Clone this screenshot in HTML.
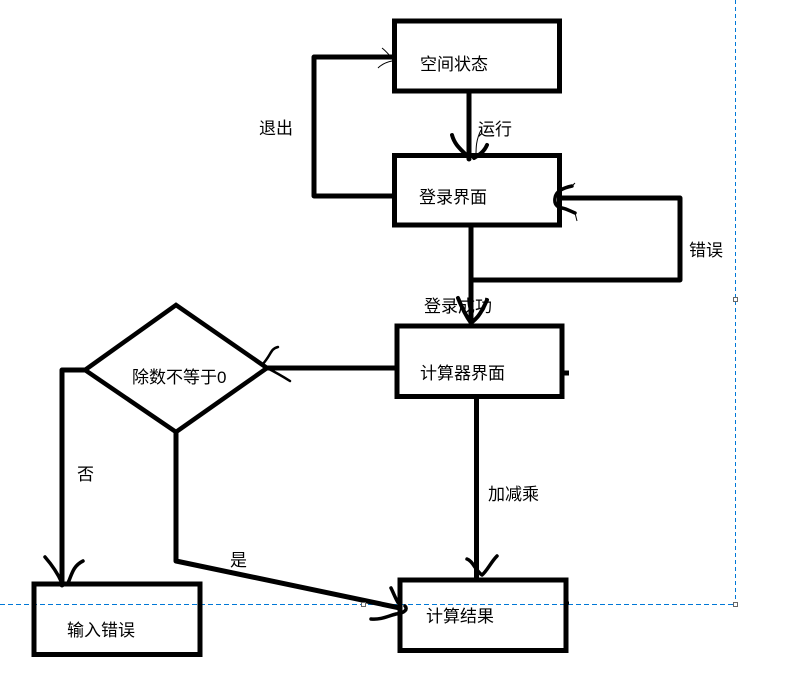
<!DOCTYPE html>
<html>
<head>
<meta charset="utf-8">
<style>
html,body{margin:0;padding:0;background:#fff;width:791px;height:676px;overflow:hidden}
svg{display:block}
text{font-family:"Liberation Sans","Noto Sans CJK SC","WenQuanYi Zen Hei",sans-serif;font-size:17px;fill:#000}
</style>
</head>
<body>
<svg width="791" height="676" viewBox="0 0 791 676" xmlns="http://www.w3.org/2000/svg">
<rect width="791" height="676" fill="#fff"/>
<text x="420" y="70">空间状态</text>
<text x="478" y="135">运行</text>
<text x="259" y="134">退出</text>
<text x="419" y="203">登录界面</text>
<text x="689" y="256">错误</text>
<text x="424" y="312">登录成功</text>
<text x="420" y="379">计算器界面</text>
<text x="132" y="383">除数不等于0</text>
<text x="77" y="480">否</text>
<text x="488" y="500">加减乘</text>
<text x="230" y="566">是</text>
<text x="67" y="636">输入错误</text>
<text x="426" y="622">计算结果</text>
<g fill="none" stroke="#0078d7" stroke-width="1">
<path d="M735.500 0 V604" stroke-dasharray="4 3"/>
<path d="M0 604.500 H735" stroke-dasharray="5 3"/>
</g>
<g fill="none" stroke="#000" stroke-width="5" stroke-linecap="round" stroke-linejoin="round">
<rect x="394.500" y="21" width="165" height="70" stroke-linejoin="miter"/>
<rect x="394.500" y="155.500" width="165" height="69.500" stroke-linejoin="miter"/>
<rect x="397" y="326" width="165" height="70.500" stroke-linejoin="miter"/>
<rect x="34" y="584" width="166" height="70.500" stroke-linejoin="miter"/>
<rect x="400" y="580" width="166" height="70.500" stroke-linejoin="miter"/>
<path d="M176 305 L267 368 L176 432 L85 370 Z" stroke-width="4.500" stroke-linejoin="miter"/>
<path d="M469 92 V159"/>
<path d="M392 196 H314 V57 H392"/>
<path d="M471 226 V322"/>
<path d="M560 198 H680 V280 H472"/>
<path d="M395 368 H267"/>
<path d="M85 370 H62 V585"/>
<path d="M176 432 V561 L400 608"/>
<path d="M476.500 397 V578"/>
<path d="M563 373 H569" stroke-linecap="butt"/>
<path d="M566 603 H569" stroke-width="3" stroke-linecap="butt"/>
<!-- hand-drawn arrowheads -->
<path d="M452 135 C455 146 462 150 469 158 M487 145 C484 152 479 155 474 158" stroke-width="4"/>
<path d="M572 186 C563 188 556 191 555 198 C554 204 557 207 562 208 C567 209 570 211 575 213" stroke-width="3.500"/>
<path d="M458 298 C462 308 466 316 471 323 C476 319 480 316 487 300" stroke-width="4"/>
<path d="M278 347 C270 349 272 354 262 365 M267 368 C275 372 282 376 290 381" stroke-width="2.500"/>
<path d="M45 557 C52 565 58 574 62 583 M68 583 C72 574 73 566 83 561" stroke-width="3.500"/>
<path d="M467 559 C473 561 475 570 482 575 C487 571 491 562 497 556" stroke-width="3.500"/>
<path d="M391 588 C394 594 396 600 399 604 M371 619 C381 620 388 616 396 614 C405 613 408 609 405 606" stroke-width="3.500"/>
</g>
<g fill="none" stroke="#000" stroke-width="1">
<path d="M382 48 C386 51 389 55 392 58 M378 68 C382 64 387 62 392 61"/>
<path d="M476 155 C476 148 476 140 481 130"/>
<path d="M572 186 L575 183 M575 213 L577 221"/>
</g>
<g fill="#fff" stroke="#666" stroke-width="1">
<rect x="733.500" y="297.500" width="4" height="4"/>
<rect x="733.500" y="602.500" width="4" height="4"/>
<rect x="361.500" y="602.500" width="4" height="4"/>
</g>
</svg>
</body>
</html>
